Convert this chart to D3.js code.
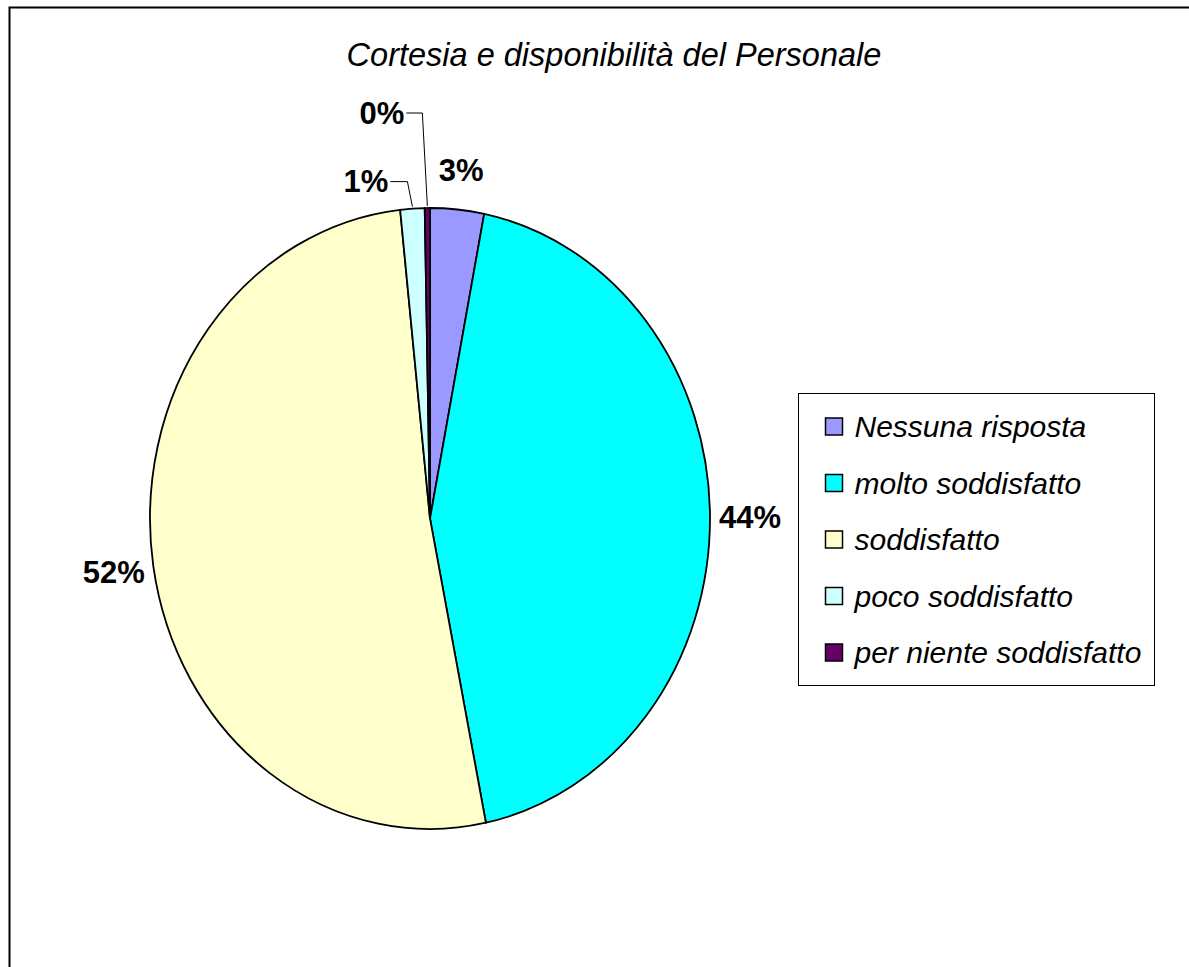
<!DOCTYPE html>
<html>
<head>
<meta charset="utf-8">
<script src="https://cdn.jsdelivr.net/npm/d3@7"></script>
<style>
  html, body { margin: 0; padding: 0; background: #fff; overflow: hidden; }
  svg { display: block; font-family: "Liberation Sans", Arial, sans-serif; }
</style>
</head>
<body>
<svg id="chart" width="1189" height="967"></svg>
<script>
// ---- data ----
const titleText = "Cortesia e disponibilità del Personale";
const categories = ["Nessuna risposta", "molto soddisfatto", "soddisfatto", "poco soddisfatto", "per niente soddisfatto"];
const values = [3.1, 43.7, 51.5, 1.4, 0.3];
const colors = ["#9999FF", "#00FFFF", "#FFFFCC", "#CCFFFF", "#660066"];

// ---- layout ----
const W = 1189, H = 967;
const cx = 430, cy = 518.5, rx = 280, ry = 310.5;
const svg = d3.select("#chart");

// outer frame (extends past right / bottom edge)
svg.append("rect")
  .attr("x", 9.5).attr("y", 7.5)
  .attr("width", W + 20).attr("height", H + 20)
  .attr("fill", "#fff").attr("stroke", "#000").attr("stroke-width", 2);

// title
svg.append("text")
  .attr("x", 614).attr("y", 66)
  .attr("text-anchor", "middle")
  .attr("font-style", "italic")
  .attr("font-size", 32.5)
  .text(titleText);

// pie (circle of radius ry scaled horizontally to form the ellipse)
const data = categories.map((c, i) => ({ name: c, value: values[i], color: colors[i] }));
const pie = d3.pie().value(d => d.value).sort(null);
const arcs = pie(data);
const arc = d3.arc().innerRadius(0).outerRadius(ry);

const g = svg.append("g")
  .attr("transform", `translate(${cx},${cy}) scale(${rx / ry},1)`);
g.selectAll("path").data(arcs).join("path")
  .attr("d", arc)
  .attr("fill", d => d.data.color)
  .attr("stroke", "#000")
  .attr("stroke-width", 1.8)
  .attr("vector-effect", "non-scaling-stroke");

// labels
const fmt = v => Math.round(v) + "%";
function ellPt(angle, ex, ey) {
  return [cx + (rx + ex) * Math.sin(angle), cy - (ry + ey) * Math.cos(angle)];
}
const labelG = svg.append("g");
// extra offsets for the small slices that use leader lines
const leaderOffsets = { 3: [-44, -27], 4: [-43, -95] };
arcs.forEach((a, i) => {
  const mid = (a.startAngle + a.endAngle) / 2;
  if (leaderOffsets[i]) {
    const p0 = ellPt(mid, 0, 0);
    const off = leaderOffsets[i];
    const ly = p0[1] + off[1];
    const lx = p0[0] + off[0];
    labelG.append("polyline")
      .attr("points", [[p0[0], p0[1] - 2], [p0[0] - 5, ly], [lx + 22, ly]].map(p => p.join(",")).join(" "))
      .attr("fill", "none").attr("stroke", "#000").attr("stroke-width", 1);
    labelG.append("text")
      .attr("x", lx + 20).attr("y", ly)
      .attr("text-anchor", "end").attr("dy", "0.35em")
      .attr("font-weight", "bold").attr("font-size", 31)
      .text(fmt(a.data.value));
  } else {
    const p = ellPt(mid, 40, 40);
    labelG.append("text")
      .attr("x", p[0]).attr("y", p[1])
      .attr("text-anchor", "middle").attr("dy", "0.35em")
      .attr("font-weight", "bold").attr("font-size", 31)
      .text(fmt(a.data.value));
  }
});

// legend
const lg = svg.append("g").attr("transform", "translate(798.5,393.5)");
lg.append("rect").attr("width", 356).attr("height", 292)
  .attr("fill", "#fff").attr("stroke", "#000").attr("stroke-width", 1);
const rowY = d3.scalePoint().domain(categories).range([33, 259]);
const items = lg.selectAll("g.item").data(data).join("g")
  .attr("class", "item")
  .attr("transform", d => `translate(0,${rowY(d.name)})`);
items.append("rect")
  .attr("x", 27).attr("y", -8.5).attr("width", 17).attr("height", 17)
  .attr("fill", d => d.color).attr("stroke", "#000").attr("stroke-width", 1.5);
items.append("text")
  .attr("x", 56).attr("y", 0).attr("dy", "0.35em")
  .attr("font-style", "italic").attr("font-size", 30)
  .text(d => d.name);
</script>
</body>
</html>
